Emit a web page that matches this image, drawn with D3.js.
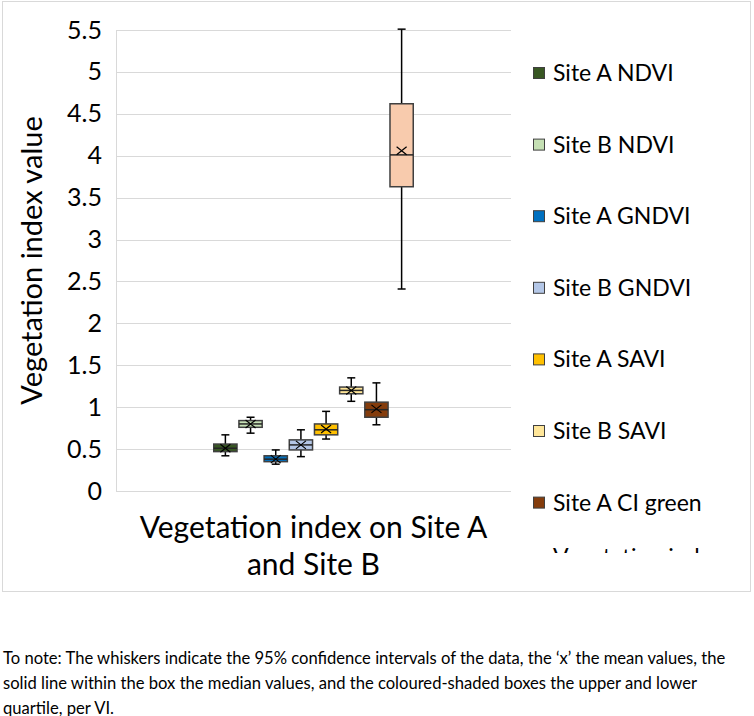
<!DOCTYPE html>
<html>
<head>
<meta charset="utf-8">
<script src="https://cdn.jsdelivr.net/npm/d3@7"></script>
<style>
  body { margin: 0; background: #fff; font-family: Lato, sans-serif; }
  #note { position: absolute; left: 3px; top: 646px; width: 748px; font-size: 16.6px; line-height: 25px; color: #000; }
</style>
</head>
<body>
<svg id="box-chart"></svg>
<div id="note">To note: The whiskers indicate the 95% confidence intervals of the data, the ‘x’ the mean values, the solid line within the box the median values, and the coloured-shaded boxes the upper and lower quartile, per VI.</div>
<script>
// values
const category = 'Vegetation index on Site A and Site B';
const seriesNames = ['Site A NDVI', 'Site B NDVI', 'Site A GNDVI', 'Site B GNDVI',
  'Site A SAVI', 'Site B SAVI', 'Site A CI green', 'Site B CI green'];
const whiskerLow  = [0.42, 0.69, 0.32, 0.41, 0.62, 1.07, 0.79, 2.41];
const quartile1   = [0.47, 0.76, 0.35, 0.49, 0.67, 1.16, 0.88, 3.63];
const medians     = [0.51, 0.80, 0.38, 0.55, 0.73, 1.20, 0.97, 4.01];
const quartile3   = [0.56, 0.84, 0.42, 0.61, 0.80, 1.24, 1.06, 4.62];
const whiskerHigh = [0.67, 0.88, 0.49, 0.73, 0.95, 1.35, 1.29, 5.51];
const means       = [0.51, 0.80, 0.38, 0.55, 0.74, 1.20, 0.98, 4.06];
const colors = ['#385723', '#c5e0b4', '#0070c0', '#b4c7e7', '#ffc000', '#ffe699', '#843c0c', '#f8cbad'];
const yTicks = [0, 0.5, 1, 1.5, 2, 2.5, 3, 3.5, 4, 4.5, 5, 5.5];

const width = 754;
const height = 600;
const margin = { top: 30, right: 243, bottom: 109, left: 116 };

const svg = d3.select('#box-chart')
  .attr('width', width)
  .attr('height', height);

// outer chart border
svg.append('rect')
  .attr('x', 2.5).attr('y', 1.5)
  .attr('width', 748).attr('height', 590)
  .attr('fill', 'none')
  .attr('stroke', '#d9d9d9');

const x0 = d3.scaleBand()
  .domain([category])
  .range([margin.left, width - margin.right])
  .paddingOuter(0.49);

const x1 = d3.scaleBand()
  .domain(seriesNames)
  .range([x0(category), x0(category) + x0.bandwidth()])
  .paddingInner(0.076);

const y = d3.scaleLinear()
  .domain([0, 5.5])
  .range([height - margin.bottom, margin.top]);

// gridlines
svg.append('g')
  .selectAll('line')
  .data(yTicks)
  .enter()
  .append('line')
  .attr('x1', margin.left)
  .attr('x2', width - margin.right)
  .attr('y1', d => Math.round(y(d)) + 0.5)
  .attr('y2', d => Math.round(y(d)) + 0.5)
  .attr('stroke', '#d9d9d9');

// y axis
const yAxis = svg.append('g')
  .attr('transform', `translate(${margin.left},0)`)
  .call(d3.axisLeft(y).tickValues(yTicks).tickSize(0).tickPadding(14).tickFormat(d3.format('')));
yAxis.select('.domain').attr('stroke', '#d9d9d9');
yAxis.selectAll('text')
  .attr('font-family', 'Lato, sans-serif')
  .attr('font-size', 25)
  .attr('fill', '#000');

svg.append('text')
  .attr('x', -(margin.top + (height - margin.bottom)) / 2)
  .attr('y', 42)
  .attr('text-anchor', 'middle')
  .attr('transform', 'rotate(-90)')
  .attr('font-size', 29)
  .text('Vegetation index value');

// x axis label (single category, wrapped like the original)
const xLabel = svg.append('text')
  .attr('x', (margin.left + width - margin.right) / 2)
  .attr('text-anchor', 'middle')
  .attr('font-size', 30);
xLabel.append('tspan').attr('x', (margin.left + width - margin.right) / 2).attr('y', 538).text('Vegetation index on Site A');
xLabel.append('tspan').attr('x', (margin.left + width - margin.right) / 2).attr('y', 575).text('and Site B');

// boxes
const boxes = svg.append('g')
  .selectAll('g')
  .data(seriesNames)
  .enter()
  .append('g')
  .attr('transform', d => `translate(${x1(d)},0)`);

const bw = x1.bandwidth();

boxes.append('line')
  .attr('x1', bw / 2).attr('x2', bw / 2)
  .attr('y1', (d, i) => y(whiskerHigh[i]))
  .attr('y2', (d, i) => y(whiskerLow[i]))
  .attr('stroke', '#000')
  .attr('stroke-width', 1.5);

boxes.selectAll('.cap')
  .data((d, i) => [whiskerLow[i], whiskerHigh[i]])
  .enter()
  .append('line')
  .attr('class', 'cap')
  .attr('x1', bw / 2 - 4).attr('x2', bw / 2 + 4)
  .attr('y1', d => y(d)).attr('y2', d => y(d))
  .attr('stroke', '#000')
  .attr('stroke-width', 1.5);

boxes.append('rect')
  .attr('x', 0)
  .attr('width', bw)
  .attr('y', (d, i) => y(quartile3[i]))
  .attr('height', (d, i) => y(quartile1[i]) - y(quartile3[i]))
  .attr('fill', (d, i) => colors[i])
  .attr('stroke', '#404040')
  .attr('stroke-width', 1.5);

boxes.append('line')
  .attr('x1', 0).attr('x2', bw)
  .attr('y1', (d, i) => y(medians[i]))
  .attr('y2', (d, i) => y(medians[i]))
  .attr('stroke', '#262626')
  .attr('stroke-width', 1.5);

// mean markers
boxes.append('path')
  .attr('transform', (d, i) => `translate(${bw / 2},${y(means[i])})`)
  .attr('d', 'M-5,-4L5,4M-5,4L5,-4')
  .attr('stroke', '#000')
  .attr('stroke-width', 1.2)
  .attr('fill', 'none');

// legend, clipped at the bottom like the original
svg.append('clipPath')
  .attr('id', 'legend-clip')
  .append('rect')
  .attr('x', 525).attr('y', 40)
  .attr('width', 188).attr('height', 513);

const legend = svg.append('g')
  .attr('clip-path', 'url(#legend-clip)')
  .selectAll('g')
  .data(seriesNames.slice(0, 7).concat([category]))
  .enter()
  .append('g')
  .attr('transform', (d, i) => `translate(533,${73 + i * 71.6})`);

legend.append('rect')
  .attr('x', 0.5).attr('y', -5.5)
  .attr('width', 11).attr('height', 11)
  .attr('fill', (d, i) => colors[i])
  .attr('stroke', '#404040');

legend.append('text')
  .attr('x', 20)
  .attr('y', (d, i) => i < 7 ? 8 : -9)
  .attr('font-size', 23)
  .text(d => d);
</script>
</body>
</html>
